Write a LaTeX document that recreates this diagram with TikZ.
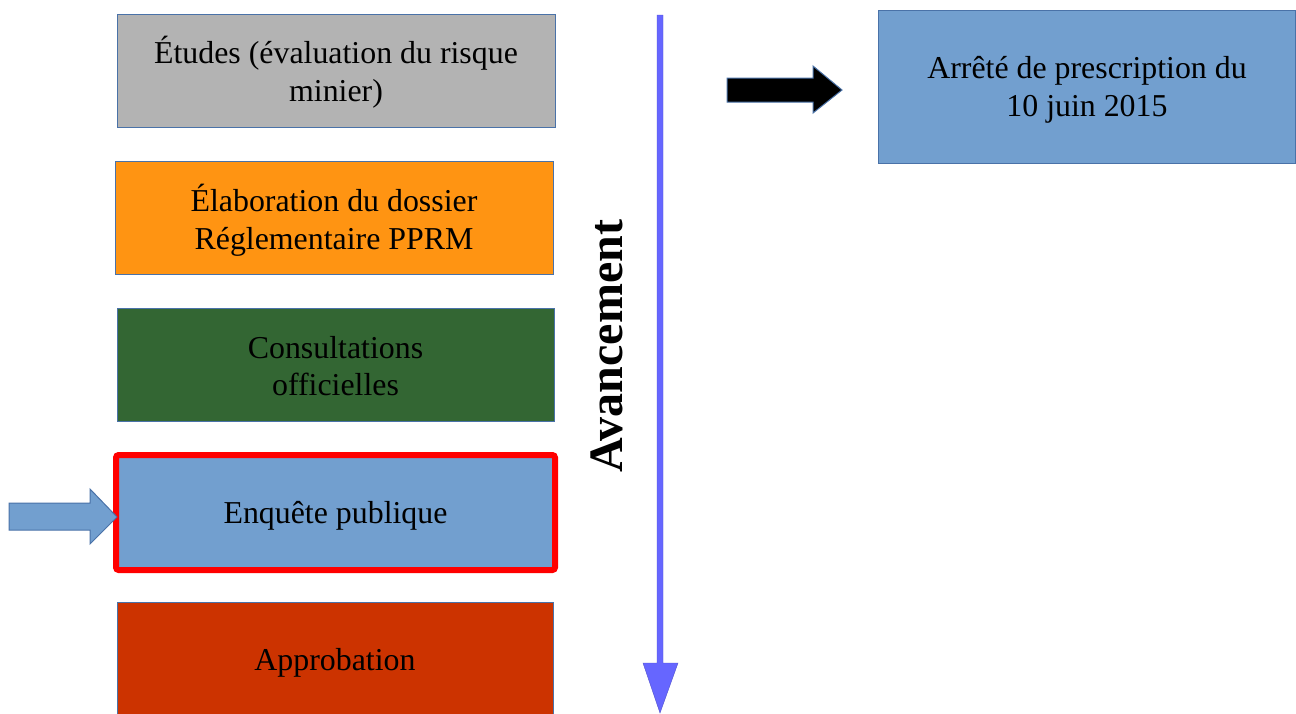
\documentclass[tikz,border=0pt]{standalone}
\usepackage{fontspec}
\setmainfont{Liberation Serif}
\definecolor{edgeblue}{HTML}{4A72A8}
\definecolor{greyfill}{HTML}{B3B3B3}
\definecolor{orangefill}{HTML}{FF9412}
\definecolor{greenfill}{HTML}{336633}
\definecolor{bluefill}{HTML}{729FCF}
\definecolor{redfill}{HTML}{CC3300}
\definecolor{progblue}{HTML}{6666FF}
\begin{document}
\begin{tikzpicture}[x=0.75pt,y=-0.75pt,
  stepbox/.style={draw=edgeblue,line width=0.75pt,minimum width=328.5pt,minimum height=84.75pt,inner sep=0pt},
  steptext/.style={align=center,inner sep=0pt,font=\fontsize{23.9}{28.2}\selectfont},
  blockarrow/.style={line width=0.75pt}]
\useasboundingbox (0,0) rectangle (1296,714);
\node[stepbox,fill=greyfill] (etudes) at (336,70.5) {};
\node[steptext] (etudestxt) at (336,72.5) {Études (évaluation du risque\\minier)};
\node[stepbox,fill=orangefill] (elab) at (334,217.5) {};
\node[steptext] (elabtxt) at (334,220) {Élaboration du dossier\\Réglementaire PPRM};
\node[stepbox,fill=greenfill,minimum width=327.75pt] (consult) at (335.5,364.5) {};
\node[steptext] (consulttxt) at (335.5,366) {Consultations\\officielles};
\node[stepbox,fill=bluefill,draw=red,line width=4.5pt,rounded corners=2pt,minimum width=329.25pt,minimum height=86.25pt] (enquete) at (335.5,512.5) {};
\node[steptext] (enquetetxt) at (335.5,516) {Enquête publique};
\node[stepbox,fill=redfill,minimum width=327pt,minimum height=87pt] (approb) at (335,660) {};
\node[steptext] (approbtxt) at (335,663) {Approbation};
\node[stepbox,fill=bluefill,minimum width=312.75pt,minimum height=114.75pt] (arrete) at (1086.5,86.5) {};
\node[steptext] (arretetxt) at (1087,90) {Arrêté de prescription du\\10 juin 2015};
% progress arrow
\fill[progblue,draw=progblue!80!black,line width=0.3pt]
  (657,15) -- (663,15) -- (663,663) -- (678,663) -- (660,713) -- (643,663) -- (657,663) -- cycle;
\node[rotate=90,font=\bfseries\fontsize{36}{40}\selectfont] (avanc) at (607,346) {Avancement};
% black arrow
\fill[black,draw=edgeblue,blockarrow]
  (727,78) -- (813,78) -- (813,66) -- (842,90) -- (813,113) -- (813,102) -- (727,102) -- cycle;
% blue arrow left
\fill[bluefill,draw=edgeblue,blockarrow]
  (9,503) -- (90,503) -- (90,489) -- (117,517) -- (90,544) -- (90,530) -- (9,530) -- cycle;
\end{tikzpicture}
\end{document}
